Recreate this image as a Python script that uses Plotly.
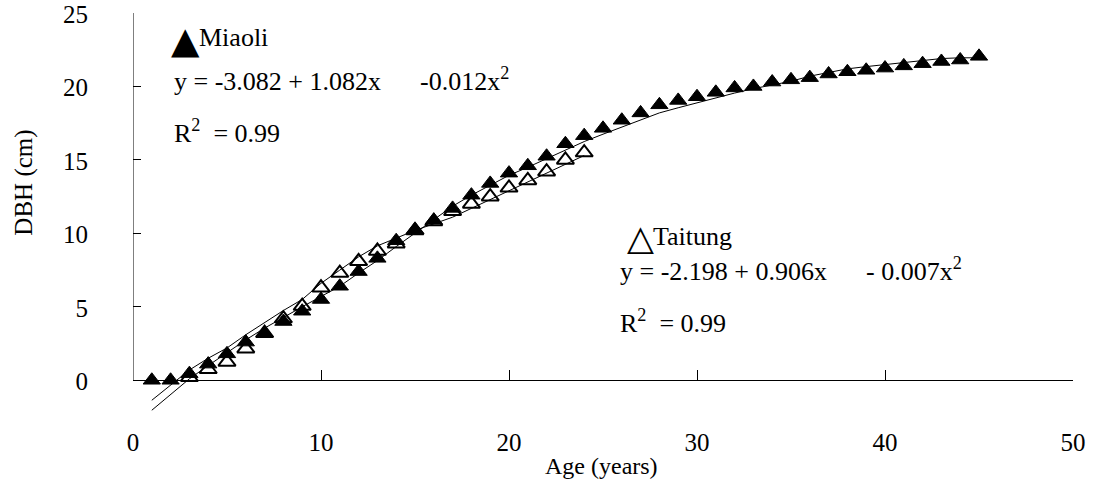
import plotly.graph_objects as go

# ---------------- data ----------------
ages_miaoli = list(range(1, 46))
dbh_miaoli = [0.0, 0.0, 0.45, 1.1, 1.8, 2.6, 3.2, 4.0, 4.7, 5.5,
              6.4, 7.4, 8.3, 9.5, 10.25, 10.9, 11.7, 12.6, 13.4, 14.1,
              14.6, 15.25, 16.1, 16.65, 17.15, 17.7, 18.2, 18.75, 19.05, 19.3,
              19.6, 19.9, 20.0, 20.3, 20.45, 20.6, 20.85, 21.0, 21.1, 21.25,
              21.4, 21.55, 21.7, 21.8, 22.05]

ages_taitung = list(range(3, 25))
dbh_taitung = [0.2, 0.75, 1.25, 2.15, 3.2, 4.2, 5.05, 6.3, 7.3, 8.1,
               8.8, 9.3, 10.2, 10.8, 11.5, 12.0, 12.5, 13.1, 13.6, 14.2,
               15.0, 15.5]

fit_ages_miaoli = list(range(1, 46))
fit_miaoli = [-2.04, -1.0, 0.1, 1.0, 1.9, 2.75, 3.55, 4.3, 5.0, 5.7,
              6.4, 7.3, 8.15, 9.1, 10.0, 10.95, 11.85, 12.6, 13.3, 13.95,
              14.5, 15.1, 15.7, 16.25, 16.75, 17.25, 17.75, 18.2, 18.55, 18.9,
              19.25, 19.55, 19.85, 20.1, 20.35, 20.7, 20.95, 21.2, 21.35, 21.5,
              21.65, 21.8, 21.9, 21.95, 21.95]

fit_ages_taitung = list(range(1, 25))
fit_taitung = [-1.36, -0.3, 0.7, 1.5, 2.2, 3.1, 3.95, 4.75, 5.5, 6.6,
               7.5, 8.4, 9.15, 9.7, 10.2, 10.65, 11.1, 11.7, 12.3, 12.85,
               13.45, 14.1, 14.7, 15.3]

x_ticks = [0, 10, 20, 30, 40, 50]
y_ticks = [0, 5, 10, 15, 20, 25]
y_range = [-2.5, 25]
x_range = [0, 50]

x_title = "Age (years)"
y_title = "DBH (cm)"
eq_miaoli = "y = -3.082 + 1.082x" + "\u00a0" * 6 + "-0.012x<sup>2</sup>"
eq_taitung = "y = -2.198 + 0.906x" + "\u00a0" * 6 + "- 0.007x<sup>2</sup>"
r2_text = "R<sup>2</sup>\u00a0\u00a0= 0.99"

SERIF = "Liberation Serif"

fig = go.Figure()

fig.add_trace(go.Scatter(
    x=ages_taitung, y=dbh_taitung, mode="markers", name="Taitung",
    marker=dict(symbol="triangle-up", size=15, color="white",
                line=dict(color="black", width=2)),
    cliponaxis=False, showlegend=False))

fig.add_trace(go.Scatter(
    x=ages_miaoli, y=dbh_miaoli, mode="markers", name="Miaoli",
    marker=dict(symbol="triangle-up", size=15, color="black",
                line=dict(color="black", width=1)),
    cliponaxis=False, showlegend=False))

fig.add_trace(go.Scatter(
    x=fit_ages_taitung, y=fit_taitung, mode="lines", name="Taitung fit",
    line=dict(color="black", width=1), showlegend=False))

fig.add_trace(go.Scatter(
    x=fit_ages_miaoli, y=fit_miaoli, mode="lines", name="Miaoli fit",
    line=dict(color="black", width=1), showlegend=False))

# y axis line only over the tick span (0..25)
fig.add_shape(type="line", xref="x", yref="y",
              x0=x_range[0], x1=x_range[0], y0=min(y_ticks), y1=max(y_ticks),
              line=dict(color="black", width=1))

ann = []
def txt(x, y, text, size=26, family=SERIF, xanchor="left", **kw):
    ann.append(dict(x=x, y=y, xref="x", yref="y", text=text, showarrow=False,
                    xanchor=xanchor, yanchor="middle",
                    font=dict(family=family, size=size, color="black"), **kw))

txt(2.77, 23.1, "\u25B2", size=37, family="DejaVu Sans", xanchor="center")
txt(3.40, 23.3, "Miaoli")
txt(2.05, 20.5, eq_miaoli)
txt(2.05, 16.95, r2_text)

txt(27.0, 9.7, "\u25B3", size=35, family="DejaVu Sans", xanchor="center")
txt(27.55, 9.8, "Taitung")
txt(25.8, 7.55, eq_taitung)
txt(25.8, 4.0, r2_text)

# axis titles
ann.append(dict(x=0.498, y=-0.121, xref="paper", yref="paper", text=x_title,
                showarrow=False, xanchor="center", yanchor="middle",
                font=dict(family=SERIF, size=24, color="black")))
ann.append(dict(x=-0.116, y=0.58, xref="paper", yref="paper", text=y_title,
                showarrow=False, xanchor="center", yanchor="middle", textangle=-90,
                font=dict(family=SERIF, size=25, color="black")))

zero_pos = (0 - y_range[0]) / (y_range[1] - y_range[0])

fig.update_layout(
    width=1093, height=482,
    margin=dict(l=133, r=20, t=13, b=65, autoexpand=False),
    paper_bgcolor="white", plot_bgcolor="white",
    font=dict(family=SERIF, size=25, color="black"),
    annotations=ann,
    xaxis=dict(range=x_range, tickvals=x_ticks, ticks="inside", ticklen=10,
               tickcolor="black", showline=True, linecolor="black", linewidth=1,
               showgrid=False, zeroline=False, anchor="free", position=zero_pos,
               tickfont=dict(family=SERIF, size=25, color="black"),
               ticklabelstandoff=40, ticklabeloverflow="allow", automargin=False),
    yaxis=dict(range=y_range, tickvals=y_ticks, ticks="inside", ticklen=8,
               tickcolor="black", showline=False, showgrid=False, zeroline=False,
               tickfont=dict(family=SERIF, size=25, color="black"),
               ticklabelstandoff=44, ticklabelshift=1, ticklabeloverflow="allow",
               automargin=False),
)

fig.write_html("out.html")
